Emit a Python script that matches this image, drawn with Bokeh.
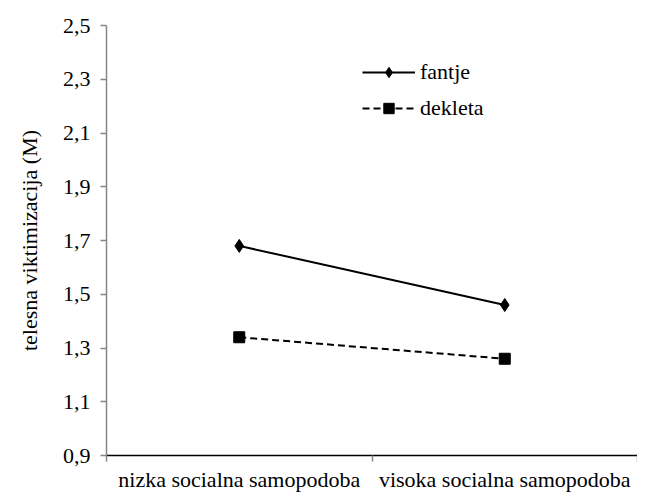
from bokeh.plotting import figure
from bokeh.models import (Range1d, FixedTicker, CustomJSTickFormatter, Legend,
                          LegendItem)
from bokeh.embed import file_html
from bokeh.resources import INLINE

# ---- data ----
categories = ["nizka socialna samopodoba", "visoka socialna samopodoba"]
fantje = [1.68, 1.46]
dekleta = [1.34, 1.26]
y_ticks = [0.9, 1.1, 1.3, 1.5, 1.7, 1.9, 2.1, 2.3, 2.5]
series_names = ["fantje", "dekleta"]
y_title = "telesna viktimizacija (M)"

FONT = "serif"
FS = "22px"
GRAY = "#868686"

xs = [i + 0.5 for i in range(len(categories))]
bounds = list(range(len(categories) + 1))

p = figure(width=637, height=494, output_backend="svg", toolbar_location=None,
           x_range=Range1d(0, len(categories)), y_range=Range1d(y_ticks[0], y_ticks[-1]),
           min_border_left=106, min_border_right=0, min_border_top=25,
           min_border_bottom=37)
p.outline_line_color = None
p.grid.visible = False

# x axis
xa = p.xaxis[0]
xa.ticker = FixedTicker(ticks=xs, minor_ticks=bounds)
xa.formatter = CustomJSTickFormatter(args=dict(cats=categories),
                                     code="return cats[Math.round(tick - 0.5)]")
xa.major_tick_out = 0
xa.major_tick_in = 0
xa.minor_tick_out = 6
xa.minor_tick_in = 0
xa.minor_tick_line_color = GRAY
xa.minor_tick_line_width = 1.5
xa.axis_line_color = "black"
xa.axis_line_width = 1.5
xa.major_label_text_font = FONT
xa.major_label_text_font_size = FS
xa.major_label_text_color = "black"
xa.major_label_standoff = 5

# y axis
ya = p.yaxis[0]
ya.ticker = FixedTicker(ticks=y_ticks, minor_ticks=[])
ya.formatter = CustomJSTickFormatter(code="return tick.toFixed(1).replace('.', ',')")
ya.major_tick_out = 6
ya.major_tick_in = 0
ya.major_tick_line_color = GRAY
ya.major_tick_line_width = 1.5
ya.minor_tick_line_color = None
ya.axis_line_color = GRAY
ya.axis_line_width = 1.5
ya.major_label_text_font = FONT
ya.major_label_text_font_size = FS
ya.major_label_text_color = "black"
ya.major_label_standoff = 10
ya.axis_label = y_title
ya.axis_label_text_font = FONT
ya.axis_label_text_font_style = "normal"
ya.axis_label_text_font_size = FS
ya.axis_label_text_color = "black"
ya.axis_label_standoff = 18

# series
l1 = p.line(xs, fantje, line_color="black", line_width=2)
s1 = p.scatter(xs, fantje, marker="diamond", size=13,
               fill_color="black", line_color="black")
l2 = p.line(xs, dekleta, line_color="black", line_width=2, line_dash="7 4")
s2 = p.scatter(xs, dekleta, marker="square", size=11,
               fill_color="black", line_color="black")

legend = Legend(items=[LegendItem(label=series_names[0], renderers=[l1, s1]),
                       LegendItem(label=series_names[1], renderers=[l2, s2])],
                location=(256, 334), padding=0, margin=0, spacing=10,
                glyph_width=53, glyph_height=26, label_height=26,
                label_standoff=5, border_line_color=None,
                background_fill_alpha=0,
                label_text_font=FONT, label_text_font_size=FS,
                label_text_color="black")
p.add_layout(legend, "center")

open("out.html", "w").write(file_html(p, INLINE))
